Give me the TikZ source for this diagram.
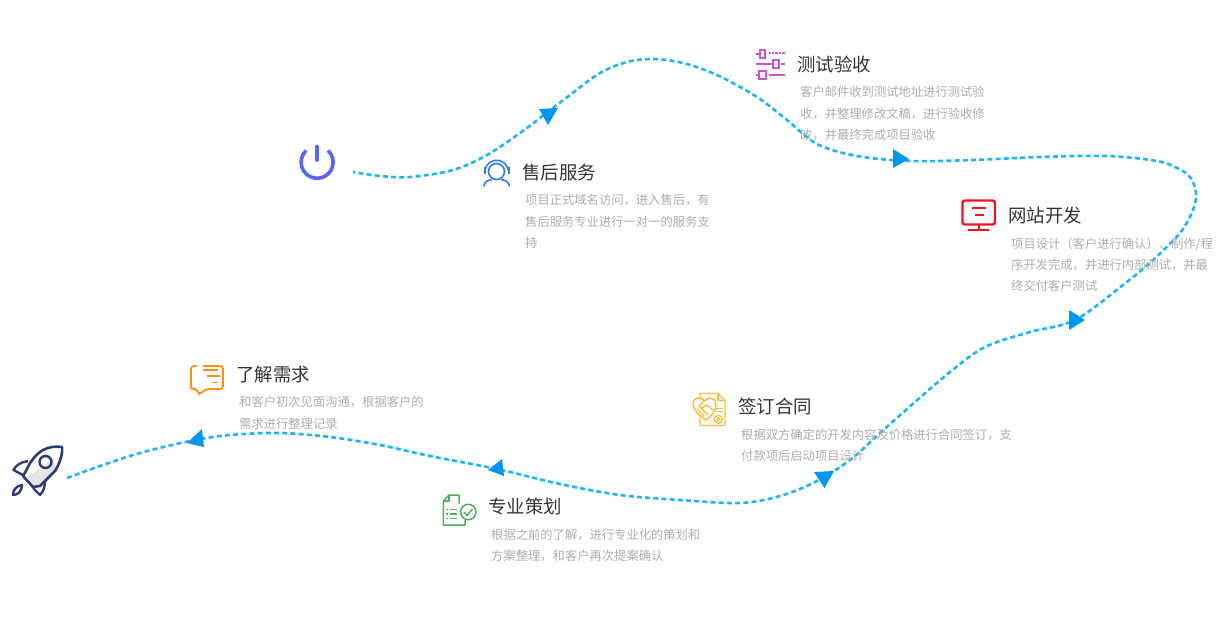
\documentclass[tikz,border=0pt]{standalone}
\usepackage{fontspec}
\setmainfont{Noto Sans CJK SC}
\usepackage{tikz}
\usetikzlibrary{arrows.meta, calc}

\definecolor{routeblue}{RGB}{30,180,245}
\definecolor{tipblue}{RGB}{0,150,240}
\definecolor{rocketnavy}{RGB}{45,60,115}
\definecolor{powerblue}{RGB}{90,100,250}
\definecolor{headblue}{RGB}{45,125,240}
\definecolor{slidermag}{RGB}{210,80,210}
\definecolor{screenred}{RGB}{240,20,30}
\definecolor{talkorange}{RGB}{245,145,20}
\definecolor{dealyellow}{RGB}{250,190,55}
\definecolor{plangreen}{RGB}{75,175,95}

\begin{document}
\begin{tikzpicture}[x=1pt, y=-1pt, line cap=butt]

\tikzset{
  route/.style={draw=routeblue, line width=2.6pt, dash pattern=on 5pt off 3.2pt},
  tip/.style={fill=tipblue},
  ttl/.style={anchor=west, inner sep=0pt, text=black!80, font=\fontsize{18.4}{22}\selectfont},
  desc/.style={anchor=north west, inner sep=0pt, align=left, text=black!32, font=\fontsize{12.3}{21.4}\selectfont},
}

\useasboundingbox (0,0) rectangle (1218,640);

\coordinate (launch) at (67,478);
\coordinate (landing) at (353,172);

\draw[route] plot[smooth, tension=0.55] coordinates {(launch) (100,466) (140,453) (190,441) (230,435) (280,433) (330,437) (380,445) (430,456) (497,469) (560,484) (620,495) (680,500) (740,503) (780,496) (815,482) (850,460) (880,433) (915,402) (950,372) (985,347) (1030,332) (1075,320) (1123,285) (1153,260) (1180,233) (1193,210) (1196,193) (1190,177) (1177,168) (1157,161) (1107,156) (1040,157) (973,160) (910,161) (857,156) (817,144) (787,120) (757,97) (717,75) (683,63) (653,59) (627,62) (600,73) (570,95) (540,118) (520,133) (487,155) (453,170) (410,177) (380,176) (landing)};

\fill[tip] (187,443) -- (202,429) -- (204,447) -- cycle;
\fill[tip] (488,470) -- (502,459) -- (504,476) -- cycle;
\fill[tip] (814,472) -- (834,471) -- (824.5,488) -- cycle;
\fill[tip] (1069,310) -- (1069,330) -- (1085,320) -- cycle;
\fill[tip] (893,149) -- (893,168) -- (909,159) -- cycle;
\fill[tip] (539,109) -- (558,108) -- (548,125) -- cycle;

\fill[black!10] (28,477) -- (54,458) -- (55,470) -- (40,486) -- (33,487) -- cycle;
\draw[rocketnavy, line width=2.6pt, line join=round] (62,447) .. controls (55,446) and (49,447) .. (43,450) .. controls (36,454) and (29,463) .. (26,471) -- (23,476) -- (33,487) -- (40,486) -- (55,471) .. controls (60,463) and (63,453) .. (62,447) -- cycle;
\draw[rocketnavy, line width=2.4pt] (45.5,462) circle (6pt);
\draw[rocketnavy, line width=2.4pt, line join=round] (28,461) .. controls (21,462) and (16,465) .. (13.5,470) -- (23,475);
\draw[rocketnavy, line width=2.4pt, line join=round] (45,480) .. controls (45,486) and (44,491) .. (40,495) -- (33,488);
\draw[rocketnavy, line width=2.4pt, line join=round] (22,485) .. controls (16,486) and (13,490) .. (13,495) .. controls (18,495) and (22,491) .. (22,485) -- cycle;

\draw[powerblue, line width=3.6pt] (328,150.5) arc (47:-227:16pt);
\draw[powerblue, line width=3.6pt, line cap=round] (317,146.5) -- (317,160);

\draw[headblue, line width=1.6pt] (496.5,171.5) circle (8pt);
\draw[headblue, line width=1.6pt] (485,170) arc (170:10:11.8pt);
\fill[headblue] (484,167) rectangle (486,174);
\fill[headblue] (507.5,167) rectangle (509.5,174);
\draw[headblue, line width=1.6pt] (484,186.5) .. controls (484,182) and (488,180) .. (492,179.5);
\draw[headblue, line width=1.6pt] (509.5,186.5) .. controls (509.5,182) and (505,180) .. (501,179.5);

\draw[slidermag, line width=2pt] (760,49.5) rectangle (765,58);
\draw[slidermag, line width=2pt] (756,53.5) -- (760,53.5);
\draw[slidermag, line width=1.5pt, dash pattern=on 1pt off 0.4pt] (769,53) -- (785,53);
\draw[slidermag, line width=2pt] (756,64) -- (773,64);
\draw[slidermag, line width=2pt] (773,60) rectangle (779,68);
\draw[slidermag, line width=2pt] (781,64) -- (785,64);
\draw[slidermag, line width=2pt] (756,75) -- (759,75);
\draw[slidermag, line width=2pt] (759,71) rectangle (765.5,79);
\draw[slidermag, line width=2pt] (769,74.5) -- (785,74.5);

\draw[screenred, line width=2.4pt, rounded corners=2.5pt] (962.5,200.5) rectangle (995,224.5);
\draw[screenred, line width=2.4pt] (978.7,224.5) -- (978.7,230) (968,230) -- (989,230);
\draw[screenred, line width=2pt] (971.5,207.8) -- (986,207.8) (974.5,215) -- (983.5,215);

\draw[talkorange, line width=1.8pt, rounded corners=3pt] (196.5,366) -- (191,366) -- (191,389) -- (196.7,389) -- (198.7,394.5) -- (206.7,389) -- (223,389) -- (223,366) -- (203,366);
\draw[talkorange, line width=1.5pt] (203,370.2) -- (218,370.2) (207,376.2) -- (220,376.2) (212,382.3) -- (218,382.3);

\draw[dealyellow, line width=1.4pt, line join=round] (700,398) -- (700,393.5) -- (718,393.5) -- (725,400.5) -- (725,425.5) -- (700,425.5) -- (700,417);
\draw[dealyellow, line width=1.4pt, line join=round] (718,393.5) -- (718,400.5) -- (725,400.5);
\draw[dealyellow, line width=1.5pt, line join=round] (704.5,401) .. controls (701,396) and (693,397) .. (693,404) .. controls (693,410) and (699,415) .. (706,420) .. controls (711,417) and (716,411) .. (716,405) .. controls (716,397) and (708,396) .. (704.5,401);
\draw[dealyellow, line width=1.4pt, line join=round] (704.5,401) -- (699,406) -- (702,408) -- (707,405) -- (714,411) (697,409) -- (704,416) (700,407) -- (708,415);
\draw[dealyellow, line width=1.1pt] (716,408.3) -- (722.7,408.3) (716,411.7) -- (722.7,411.7);
\draw[dealyellow, line width=1.3pt, fill=white] (718.3,419.3) circle (4pt);
\draw[dealyellow, line width=1pt] (718.3,419.3) circle (1.6pt);

\draw[plangreen, line width=1.5pt, line join=round] (459,503.5) -- (459,495) -- (449,495) -- (443.3,501) -- (443.3,525) -- (465,525) -- (465,520);
\draw[plangreen, line width=1.5pt, line join=round] (449,495) -- (449,501) -- (443.3,501);
\draw[plangreen, line width=1.5pt] (468.3,512) circle (7.7pt);
\draw[plangreen, line width=1.5pt, line join=round] (464,512) -- (467,515.5) -- (472.5,509);
\draw[plangreen, line width=1.5pt] (446,509.5) -- (447.6,509.5) (446,514) -- (447.6,514) (446,518.7) -- (447.6,518.7);
\draw[plangreen, line width=1.5pt] (450,509.5) -- (457,509.5) (450,514) -- (457,514) (450,518.7) -- (457,518.7);

\node[ttl] (need) at (236,374.7) {了解需求};
\node[desc] (needtxt) at (239,396.3) {和客户初次见面沟通，根据客户的\\需求进行整理记录};

\node[ttl] (plan) at (488,506.7) {专业策划};
\node[desc] (plantxt) at (491,528.5) {根据之前的了解，进行专业化的策划和\\方案整理，和客户再次提案确认};

\node[ttl] (deal) at (738,406.7) {签订合同};
\node[desc] (dealtxt) at (741,428.5) {根据双方确定的开发内容及价格进行合同签订，支\\付款项后启动项目设计};

\node[ttl] (dev) at (1008,215.7) {网站开发};
\node[desc] (devtxt) at (1011,237.3) {项目设计（客户进行确认）、制作/程\\序开发完成，并进行内部测试，并最\\终交付客户测试};

\node[ttl] (test) at (797,64.7) {测试验收};
\node[desc] (testtxt) at (800,86.3) {客户邮件收到测试地址进行测试验\\收，并整理修改文稿，进行验收修\\改，并最终完成项目验收};

\node[ttl] (care) at (522,172.7) {售后服务};
\node[desc] (caretxt) at (525,194.3) {项目正式域名访问，进入售后，有\\售后服务专业进行一对一的服务支\\持};

\end{tikzpicture}
\end{document}
